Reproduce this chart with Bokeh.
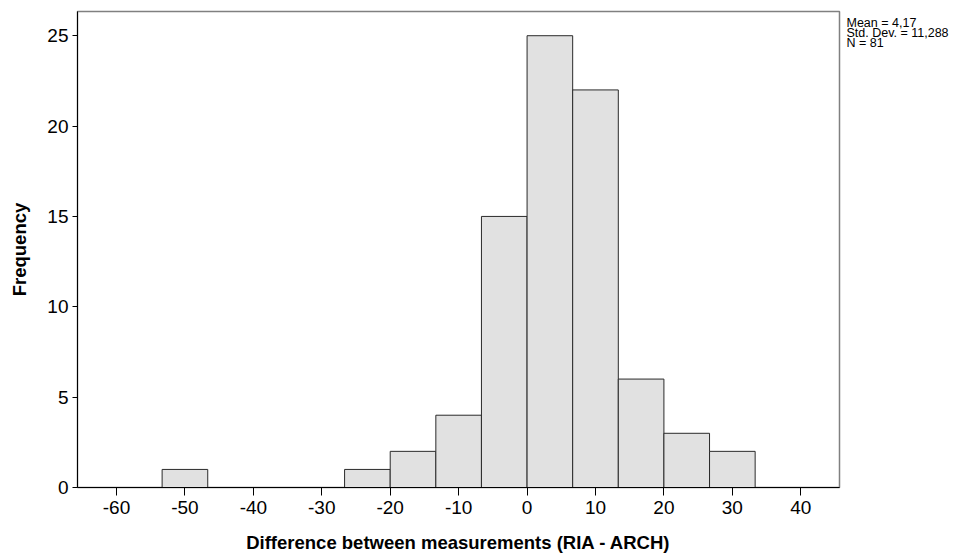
from bokeh.plotting import figure
from bokeh.models import Range1d, FixedTicker
from bokeh.layouts import row
from bokeh.core.properties import value
from bokeh.embed import file_html
from bokeh.resources import INLINE

# Histogram bins (bin width 20/3) and frequencies
bin_left = [-53.333, -26.667, -20.0, -13.333, -6.667, 0.0, 6.667, 13.333, 20.0, 26.667]
bin_right = [-46.667, -20.0, -13.333, -6.667, 0.0, 6.667, 13.333, 20.0, 26.667, 33.333]
counts = [1, 1, 2, 4, 15, 25, 22, 6, 3, 2]

x_ticks = [-60, -50, -40, -30, -20, -10, 0, 10, 20, 30, 40]
x_tick_labels = ["-60", "-50", "-40", "-30", "-20", "-10", "0", "10", "20", "30", "40"]
y_ticks = [0, 5, 10, 15, 20, 25]
stats_lines = ["Mean = 4,17", "Std. Dev. = 11,288", "N = 81"]

FONT = "Liberation Sans"

y_range = Range1d(0, 26.34)

p = figure(width=845, height=559, output_backend="svg", toolbar_location=None,
           x_range=Range1d(-65.7, 45.66), y_range=y_range,
           min_border_left=77, min_border_right=6, min_border_top=11, min_border_bottom=72)
p.background_fill_color = "white"
p.border_fill_color = "white"
p.outline_line_color = "#808080"
p.outline_line_width = 1.5
p.grid.visible = False

p.quad(left=bin_left, right=bin_right, bottom=0, top=counts,
       fill_color="#e1e1e1", line_color="#2a2a2a", line_width=1)

for ax in (p.xaxis[0], p.yaxis[0]):
    ax.axis_line_color = "black"
    ax.axis_line_width = 1
    ax.major_tick_line_color = "black"
    ax.minor_tick_line_color = None
    ax.major_tick_in = 0
    ax.major_label_text_font = FONT
    ax.major_label_text_font_size = "19px"
    ax.major_label_text_color = "black"
    ax.axis_label_text_font = FONT
    ax.axis_label_text_font_size = "18.5px"
    ax.axis_label_text_font_style = "bold"
    ax.axis_label_text_color = "black"

p.xaxis.ticker = FixedTicker(ticks=x_ticks)
p.xaxis.major_label_overrides = {t: s for t, s in zip(x_ticks, x_tick_labels)}
p.yaxis.ticker = FixedTicker(ticks=y_ticks)
p.xaxis.major_tick_out = 8
p.yaxis.major_tick_out = 5
p.xaxis.major_label_standoff = 5
p.yaxis.major_label_standoff = 4
p.xaxis.axis_label = "Difference between measurements (RIA - ARCH)"
p.yaxis.axis_label = "Frequency"
p.xaxis.axis_label_standoff = 15
p.yaxis.axis_label_standoff = 14

# Side panel with the summary statistics; its frame is aligned with the main frame
s = figure(width=126, height=559, output_backend="svg", toolbar_location=None,
           x_axis_type=None, y_axis_type=None,
           x_range=Range1d(0, 126), y_range=y_range,
           min_border_left=0, min_border_right=0, min_border_top=11, min_border_bottom=72)
s.grid.visible = False
s.outline_line_color = None
s.background_fill_color = "white"
s.border_fill_color = "white"
s.text(x=[1, 1, 1], y=[25.69, 25.14, 24.58], text=stats_lines, text_font=value(FONT),
       text_font_size="12.5px", text_baseline="middle", text_align="left", text_color="black")

layout = row(p, s, spacing=0)
open("out.html", "w").write(file_html(layout, INLINE))
